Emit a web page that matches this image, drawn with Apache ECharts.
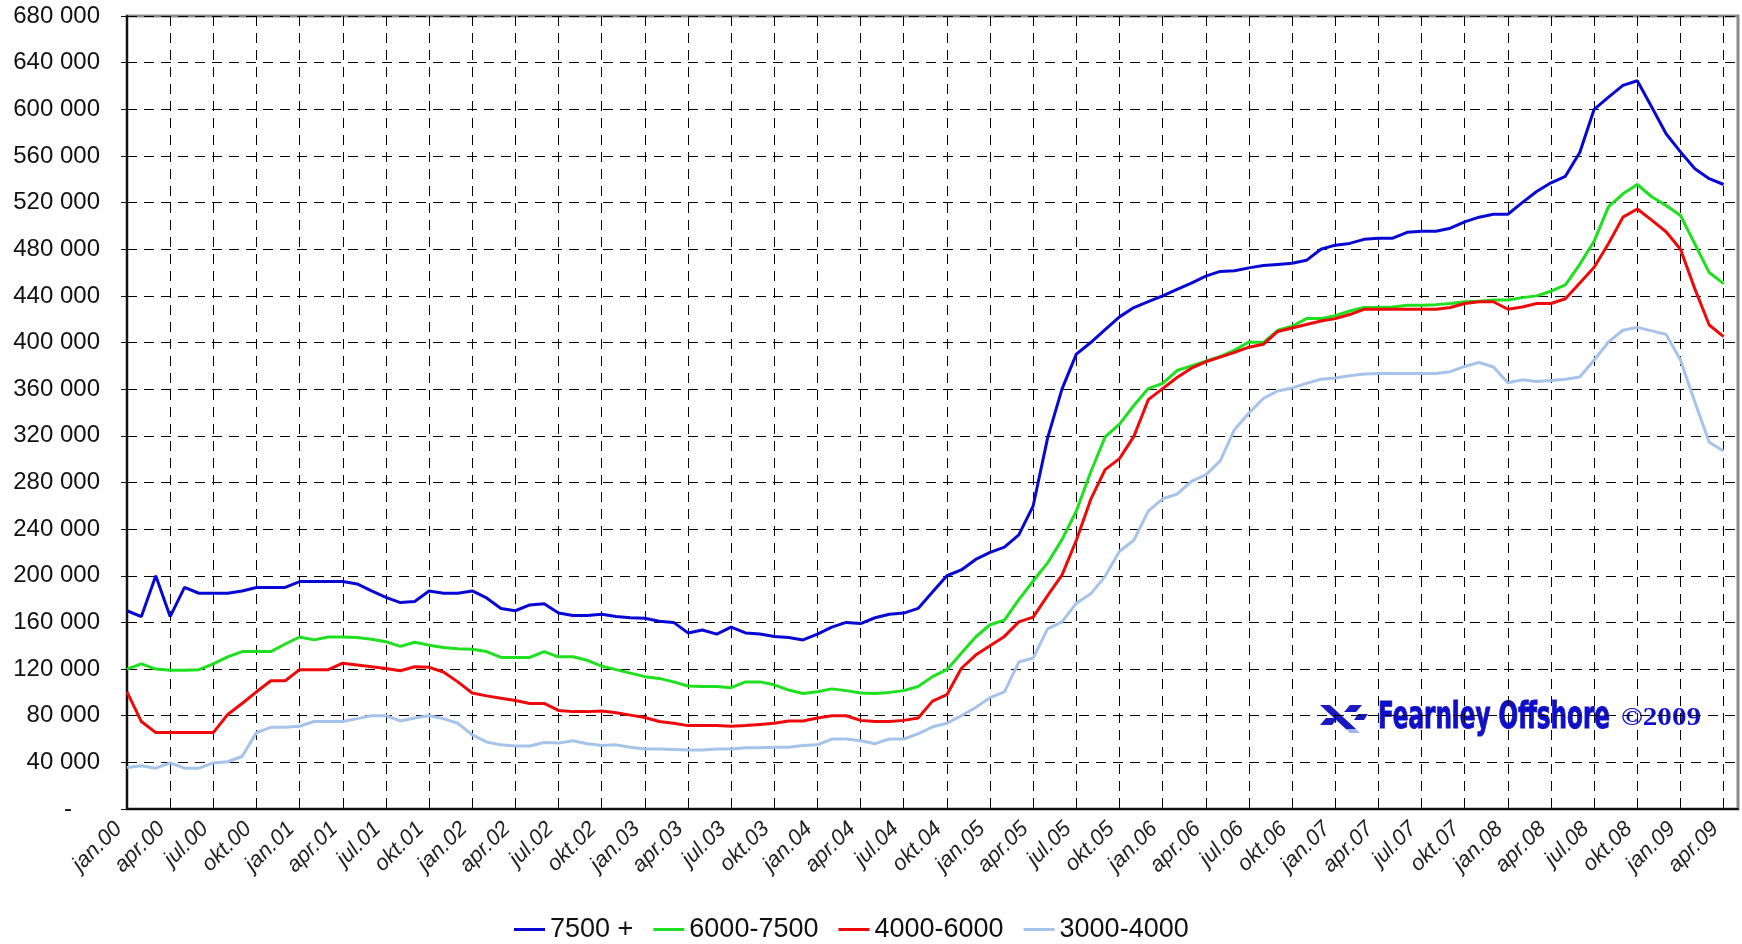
<!DOCTYPE html>
<html>
<head>
<meta charset="utf-8">
<script src="https://cdn.jsdelivr.net/npm/echarts@6/dist/echarts.min.js"></script>
<style>
html,body{margin:0;padding:0;background:#fff;}
#chart{width:1742px;height:944px;}
</style>
</head>
<body>
<div id="chart"></div>
<script>
// Month names (Norwegian) and years used for the category axis
var monthNames = ['jan','feb','mar','apr','mai','jun','jul','aug','sep','okt','nov','des'];
var years = ['00','01','02','03','04','05','06','07','08','09'];
var lastMonthIndex = 4; // axis runs to mai.09

var seriesNames = ['7500 +', '6000-7500', '4000-6000', '3000-4000'];

var s7500 = [
170000,165000,200000,165000,190000,185000,185000,185000,187000,190000,
190000,190000,195000,195000,195000,195000,193000,187000,181500,177000,
178000,187000,185000,185000,187000,181000,172000,170000,175000,176000,
168000,166000,166000,167000,165000,164000,163500,161000,160000,151000,
153500,150000,156000,151000,150000,148000,147000,145000,150000,156000,
160000,159000,164000,167000,168000,172000,186000,200000,205000,214000,
220000,224500,235000,260000,318000,360000,390000,400000,411000,422000,
430000,435000,440000,445500,451000,457000,461000,461500,464000,466000,
467000,468000,470500,480000,483500,485000,488500,489500,489500,494500,
495500,495500,498000,503500,507500,510000,510000,520000,529500,537000,
542500,563000,600000,610500,620500,624500,602000,579000,563500,549000,
540500,535500
];
var s6000 = [
120000,124500,120000,119000,119000,119500,124500,130500,135000,135000,
135000,141500,147500,145000,147500,147500,147000,145500,143500,139500,
143000,140500,138500,137500,137000,135000,130000,130000,130000,135000,
130500,130500,127500,122500,119500,116500,113500,112000,109000,105500,
105000,105000,104000,109000,109000,106500,102000,99000,100500,103000,
101500,99500,99000,100000,101500,105000,113500,119500,133500,147500,
158000,162000,179500,195500,211000,231000,255500,289000,319000,330000,
346000,360500,365000,376000,380000,384000,388000,393500,400500,400000,
410500,414000,420500,420500,423000,427000,430000,430000,430500,432000,
432000,432500,433500,435000,435500,436500,436500,438500,440000,444000,
449500,467000,487000,516500,527500,535500,525000,517500,509000,484500,
460000,450500
];
var s4000 = [
100500,75000,65500,65500,65500,65500,65500,81000,90500,100500,
110000,110000,119500,119500,119500,125000,123500,122000,120500,118500,
122000,121500,117500,109000,99500,97000,95000,93000,90500,90500,
84500,83500,83500,84000,82500,80500,78500,75000,73500,71500,
71500,71500,71000,71500,72500,73500,75500,75500,78000,80000,
80000,76000,75000,75000,76000,78000,92500,98000,120500,132000,
140000,148000,160500,164500,183000,200500,230500,265500,291000,300500,
319500,351000,360500,370000,378000,383500,387500,391500,396000,398500,
409500,412500,415500,418500,420500,424000,428500,428500,428500,428500,
428500,428500,430000,433500,435000,435000,428500,430500,433500,433500,
437500,451000,464500,485000,507500,514500,505000,495000,480000,446000,
415000,405000
];
var s3000 = [
35500,37000,35000,39500,35000,35000,39500,40500,45000,65500,
70000,70000,71000,75000,75000,75000,77500,80000,80000,75500,
78000,80000,77500,73500,63500,57500,55000,54000,54000,57000,
56500,58500,56000,54500,55000,53000,51500,51500,51000,50500,
50500,51500,51500,52500,52500,53000,53000,54500,55000,60000,
60000,58500,56000,60000,60000,64500,70500,73500,80000,87000,
95500,100500,126000,129500,154500,160500,176500,184500,199500,221000,
230500,255500,266000,270000,281000,286500,298500,325500,339500,352000,
358500,361000,365000,368500,369500,371500,373000,373500,373500,373500,
373500,373500,375000,379500,383000,379000,365500,368000,366500,367500,
368500,370500,385000,400500,410500,413000,410000,407000,385000,349000,
314500,307000
];

var categories = [];
years.forEach(function(y, yi){
  monthNames.forEach(function(m, mi){
    if (yi === years.length - 1 && mi > lastMonthIndex) return;
    categories.push(m + '.' + y);
  });
});

var colors = ['#0808d4', '#1ee01e', '#ee0a0a', '#a6c3e9'];
var allData = [s7500, s6000, s4000, s3000];

function fmt(v){
  if (v === 0) return '{d|-}';
  return String(v).replace(/\B(?=(\d{3})+(?!\d))/g, ' ');
}

function fitScale(text, font, target){
  var c = document.createElement('canvas').getContext('2d');
  c.font = font;
  var w = c.measureText(text).width;
  return target / w;
}

var brandFont = 'bold 38px "DejaVu Sans Condensed", "DejaVu Sans"';
var brandScale = fitScale('Fearnley Offshore', brandFont, 232);
var copyFont = 'bold 26px "Liberation Serif", "DejaVu Serif"';
var copyScale = fitScale('\u00A92009', copyFont, 80);

var chart = echarts.init(document.getElementById('chart'));
chart.setOption({
  animation: false,
  backgroundColor: '#ffffff',
  color: colors,
  textStyle: { fontFamily: '"Liberation Sans", Arial, sans-serif' },
  grid: {
    left: 127, right: 4, top: 16, bottom: 135,
    show: true, borderColor: '#8a8a8a', borderWidth: 3, backgroundColor: '#fff'
  },
  legend: {
    data: seriesNames,
    left: 509, top: 911,
    icon: 'rect', itemWidth: 31, itemHeight: 3, itemGap: 20,
    textStyle: { fontSize: 27, color: '#111', fontFamily: '"Liberation Sans", Arial, sans-serif' }
  },
  xAxis: {
    type: 'category',
    data: categories,
    boundaryGap: false,
    axisLine: { show: true, lineStyle: { color: '#111', width: 2 } },
    axisTick: { show: false },
    axisLabel: {
      interval: function(i){ return i % 3 === 0; },
      rotate: 45,
      margin: 8,
      padding: [0, 12, 0, 0],
      fontSize: 22,
      fontStyle: 'italic',
      color: '#222'
    },
    splitLine: {
      show: true,
      interval: function(i){ return i % 3 === 0; },
      lineStyle: { color: '#000', width: 1, type: [10, 7] }
    }
  },
  yAxis: {
    type: 'value',
    min: 0, max: 680000, interval: 40000,
    axisLine: { show: true, lineStyle: { color: '#111', width: 2 } },
    axisTick: { show: true, length: 6, lineStyle: { color: '#111' } },
    axisLabel: {
      formatter: fmt,
      fontSize: 24,
      color: '#111',
      margin: 27,
      rich: { d: { fontSize: 24, color: '#111', padding: [0, 28, 0, 0] } }
    },
    splitLine: { show: true, lineStyle: { color: '#000', width: 1, type: [10, 7] } }
  },
  graphic: [
    {
      type: 'group', left: 1316, top: 697, z: 100,
      children: [
        { type: 'rect', shape: { x: -4, y: -4, width: 392, height: 44 }, style: { fill: 'rgba(255,255,255,0.85)' } },
        { type: 'polygon', shape: { points: [[4,8],[14,8],[40,32],[30,32]] }, style: { fill: '#9fb6ee' } },
        { type: 'polygon', shape: { points: [[0,4],[10,4],[36,28],[26,28]] }, style: { fill: '#1a1ac0' } },
        { type: 'polygon', shape: { points: [[30,4],[42,4],[36,11],[24,11]] }, style: { fill: '#1a1ac0' } },
        { type: 'polygon', shape: { points: [[0,24],[12,24],[18,17],[6,17]] }, style: { fill: '#1a1ac0' } },
        { type: 'polygon', shape: { points: [[38,13],[48,13],[44,19],[34,19]] }, style: { fill: '#1a1ac0' } },
        {
          type: 'text', x: 58, y: -2, scaleX: brandScale, scaleY: 1,
          style: { text: 'Fearnley Offshore', font: brandFont, fill: '#0f0fc8', stroke: '#0f0fc8', lineWidth: 1, textVerticalAlign: 'top' }
        },
        {
          type: 'text', x: 301, y: 4, scaleX: copyScale, scaleY: 1,
          style: { text: '\u00A92009', font: copyFont, fill: '#0f0fc8', textVerticalAlign: 'top' }
        }
      ]
    }
  ],
  series: seriesNames.map(function(n, k){
    return {
      name: n,
      type: 'line',
      data: allData[k],
      symbol: 'none',
      lineStyle: { width: 3, color: colors[k] },
      itemStyle: { color: colors[k] },
      z: 3 + k
    };
  })
});
</script>
</body>
</html>
